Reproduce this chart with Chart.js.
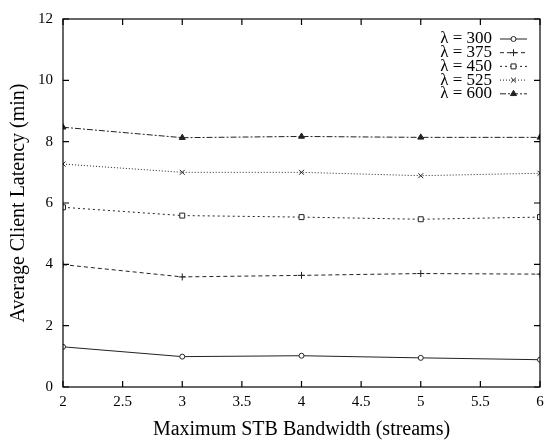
<!DOCTYPE html>
<html>
<head>
<meta charset="utf-8">
<script src="https://cdn.jsdelivr.net/npm/chart.js@4/dist/chart.umd.min.js"></script>
<style>
    html, body { margin: 0; padding: 0; background: #fff; }
    #wrap { width: 558px; height: 442px; }
</style>
</head>
<body>
<div id="wrap"><canvas id="latencyChart"></canvas></div>
<script>
// data
const bandwidth = [2, 3, 4, 5, 6];
const lambdas = ["300", "375", "450", "525", "600"];
const lat300 = [1.31, 0.99, 1.02, 0.95, 0.89];
const lat375 = [3.99, 3.59, 3.64, 3.70, 3.68];
const lat450 = [5.86, 5.59, 5.54, 5.47, 5.54];
const lat525 = [7.27, 7.00, 7.00, 6.89, 6.97];
const lat600 = [8.47, 8.13, 8.17, 8.14, 8.14];
const xTicks = [2, 2.5, 3, 3.5, 4, 4.5, 5, 5.5, 6];
const yTicks = [0, 2, 4, 6, 8, 10, 12];

const serif = "'Liberation Serif', 'DejaVu Serif', serif";
const lineColor = "#222";

const styles = [
    { dash: [], point: "circle", fill: "#fff", radius: 2.5 },
    { dash: [4, 3], point: "cross", fill: "#fff", radius: 3.5 },
    { dash: [2, 3], point: "rect", fill: "#fff", radius: 3.5 },
    { dash: [1, 2], point: "crossRot", fill: "#fff", radius: 3.5 },
    { dash: [6, 2, 2, 2], point: "triangle", fill: lineColor, radius: 3.5 },
];

const series = [lat300, lat375, lat450, lat525, lat600];

const datasets = series.map((vals, i) => ({
    label: "λ = " + lambdas[i],
    data: bandwidth.map((b, j) => ({ x: b, y: vals[j] })),
    borderColor: lineColor,
    borderWidth: 1,
    borderDash: styles[i].dash,
    pointStyle: styles[i].point,
    pointRadius: styles[i].radius,
    pointBackgroundColor: styles[i].fill,
    pointBorderColor: lineColor,
    pointBorderWidth: 1,
    tension: 0,
}));

// frame + inward ticks on all four sides, gnuplot style
const framePlugin = {
    id: "frame",
    afterDraw(chart) {
        const ctx = chart.ctx;
        const a = chart.chartArea;
        const xs = chart.scales.x;
        const ys = chart.scales.y;
        const len = 6;
        ctx.save();
        ctx.strokeStyle = "#000";
        ctx.lineWidth = 1.2;
        ctx.setLineDash([]);
        ctx.strokeRect(a.left, a.top, a.right - a.left, a.bottom - a.top);
        ctx.beginPath();
        xTicks.forEach(v => {
            const px = xs.getPixelForValue(v);
            ctx.moveTo(px, a.bottom); ctx.lineTo(px, a.bottom - len);
            ctx.moveTo(px, a.top); ctx.lineTo(px, a.top + len);
        });
        yTicks.forEach(v => {
            const py = ys.getPixelForValue(v);
            ctx.moveTo(a.left, py); ctx.lineTo(a.left + len, py);
            ctx.moveTo(a.right, py); ctx.lineTo(a.right - len, py);
        });
        ctx.stroke();
        ctx.restore();
    },
};

// key in the top right corner: text, then line sample with marker
const keyPlugin = {
    id: "key",
    afterDraw(chart) {
        const ctx = chart.ctx;
        const a = chart.chartArea;
        const textRight = a.right - 48;
        const x0 = a.right - 40;
        const x1 = a.right - 13;
        ctx.save();
        ctx.font = "17px " + serif;
        ctx.textAlign = "right";
        ctx.textBaseline = "middle";
        chart.data.datasets.forEach((ds, i) => {
            const y = a.top + 20 + i * 13.7;
            ctx.fillStyle = "#000";
            ctx.fillText(ds.label, textRight, y);
            ctx.strokeStyle = lineColor;
            ctx.lineWidth = 1;
            ctx.setLineDash(ds.borderDash);
            ctx.beginPath();
            ctx.moveTo(x0, y);
            ctx.lineTo(x1, y);
            ctx.stroke();
            ctx.setLineDash([]);
            ctx.fillStyle = ds.pointBackgroundColor;
            ctx.strokeStyle = lineColor;
            Chart.helpers.drawPoint(ctx, {
                pointStyle: ds.pointStyle,
                radius: ds.pointRadius,
                borderWidth: 1,
                rotation: 0,
            }, (x0 + x1) / 2, y);
        });
        ctx.restore();
    },
};

new Chart(document.getElementById("latencyChart"), {
    type: "line",
    data: { datasets: datasets },
    options: {
        responsive: true,
        maintainAspectRatio: false,
        animation: false,
        layout: { padding: { left: 0, right: 18, top: 18, bottom: 0 } },
        plugins: {
            legend: { display: false },
            tooltip: { enabled: false },
        },
        scales: {
            x: {
                type: "linear",
                min: 2,
                max: 6,
                afterBuildTicks: s => { s.ticks = xTicks.map(v => ({ value: v })); },
                afterFit: s => { s.height = 55; },
                grid: { display: false, drawTicks: false },
                border: { display: false },
                ticks: {
                    color: "#000",
                    padding: 6,
                    maxRotation: 0,
                    callback: v => String(v),
                    font: { family: serif, size: 15 },
                },
                title: {
                    display: true,
                    text: "Maximum STB Bandwidth (streams)",
                    color: "#000",
                    padding: { top: 0, bottom: 0 },
                    font: { family: serif, size: 20 },
                },
            },
            y: {
                min: 0,
                max: 12,
                afterBuildTicks: s => { s.ticks = yTicks.map(v => ({ value: v })); },
                afterFit: s => { s.width = 63; },
                grid: { display: false, drawTicks: false },
                border: { display: false },
                ticks: {
                    color: "#000",
                    padding: 10,
                    callback: v => String(v),
                    font: { family: serif, size: 15 },
                },
                title: {
                    display: true,
                    text: "Average Client Latency (min)",
                    color: "#000",
                    padding: { top: 7, bottom: 0 },
                    font: { family: serif, size: 20 },
                },
            },
        },
    },
    plugins: [framePlugin, keyPlugin],
});
</script>
</body>
</html>
